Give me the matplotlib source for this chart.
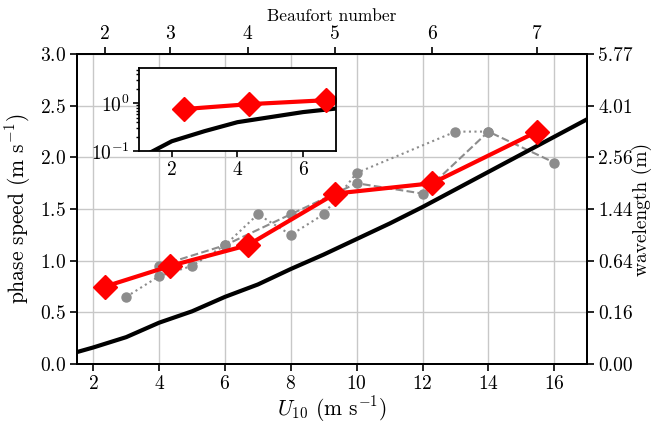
import numpy as np
import matplotlib
matplotlib.use("Agg")
import matplotlib.pyplot as plt

plt.rcParams['font.family'] = 'serif'
plt.rcParams['font.serif'] = ['cmr10']
plt.rcParams['mathtext.fontset'] = 'cm'
plt.rcParams['axes.formatter.use_mathtext'] = True
plt.rcParams['axes.unicode_minus'] = True

### data
u_model = [1, 2, 3, 4, 5, 6, 7, 8, 9, 10, 11, 12, 13, 14, 15, 16, 17]
c_model = [0.07, 0.16, 0.26, 0.40, 0.51, 0.65, 0.77, 0.92, 1.06, 1.21,
           1.36, 1.52, 1.69, 1.86, 2.03, 2.20, 2.37]

u_dot = [3, 4, 5, 6, 7, 8, 9, 10, 13, 14]
c_dot = [0.65, 0.85, 0.95, 1.15, 1.45, 1.25, 1.45, 1.85, 2.25, 2.25]

u_dash = [4, 6, 8, 10, 12, 14, 16]
c_dash = [0.95, 1.15, 1.45, 1.75, 1.65, 2.25, 1.95]

beaufort = [2, 3, 4, 5, 6, 7]
u_beaufort = [2.36, 4.34, 6.69, 9.35, 12.29, 15.48]
c_beaufort = [0.75, 0.95, 1.15, 1.65, 1.75, 2.25]

c_ticks = [0.0, 0.5, 1.0, 1.5, 2.0, 2.5, 3.0]
wl_labels = ['0.00', '0.16', '0.64', '1.44', '2.56', '4.01', '5.77']

fig = plt.figure(figsize=(6.51, 4.23), dpi=100)
ax = fig.add_axes([0.118, 0.1395, 0.784, 0.7325])

ax.plot(u_model, c_model, color='k', lw=3, zorder=3)
ax.plot(u_dot, c_dot, ':', color='#8c8c8c', lw=1.5, marker='o', ms=6.5, zorder=2)
ax.plot(u_dash, c_dash, '--', color='#8c8c8c', lw=1.5, marker='o', ms=6.5, zorder=2)
ax.plot(u_beaufort, c_beaufort, color='r', lw=3, marker='D', ms=12, zorder=4)

ax.set_xlim(1.5, 17)
ax.set_ylim(0, 3)
ax.set_xticks([2, 4, 6, 8, 10, 12, 14, 16])
ax.set_yticks(c_ticks)
ax.grid(True, color='#c8c8c8', lw=1)
ax.set_axisbelow(True)
ax.tick_params(labelsize=14, width=1.2, length=5, pad=3)
for s in ax.spines.values():
    s.set_linewidth(1.3)
ax.set_xlabel('$U_{10}$ (m s$^{-1}$)', fontsize=15.5, labelpad=1)
ax.set_ylabel('phase speed (m s$^{-1}$)', fontsize=15.5, labelpad=5)

### right axis: wavelength
axr = ax.twinx()
axr.set_ylim(0, 3)
axr.set_yticks(c_ticks)
axr.set_yticklabels(wl_labels)
axr.tick_params(labelsize=14, width=1.2, length=5, pad=3)
axr.set_ylabel('wavelength (m)', fontsize=14)
axr.yaxis.set_label_coords(1.088, 0.5)

### top axis: Beaufort number
axt = ax.twiny()
axt.set_xlim(1.5, 17)
axt.set_xticks(u_beaufort)
axt.set_xticklabels([str(b) for b in beaufort])
axt.tick_params(labelsize=14, width=1.2, length=5, pad=3)
axt.set_xlabel('Beaufort number', fontsize=12.5, labelpad=3)
for a in (axr, axt):
    for s in a.spines.values():
        s.set_linewidth(1.3)

### inset, log scale
axi = fig.add_axes([0.2135, 0.643, 0.3025, 0.197])
axi.plot(u_model, c_model, color='k', lw=3)
axi.plot(u_beaufort[:3], c_beaufort[:3], color='r', lw=3, marker='D', ms=12)
axi.set_yscale('log')
axi.set_xlim(1, 7)
axi.set_ylim(0.1, 5.5)
axi.set_xticks([2, 4, 6])
axi.tick_params(labelsize=14, width=1.2, length=4, pad=3)
axi.tick_params(which='minor', width=1, length=2.5)
for s in axi.spines.values():
    s.set_linewidth(1.3)

plt.savefig('out.png', dpi=100)
